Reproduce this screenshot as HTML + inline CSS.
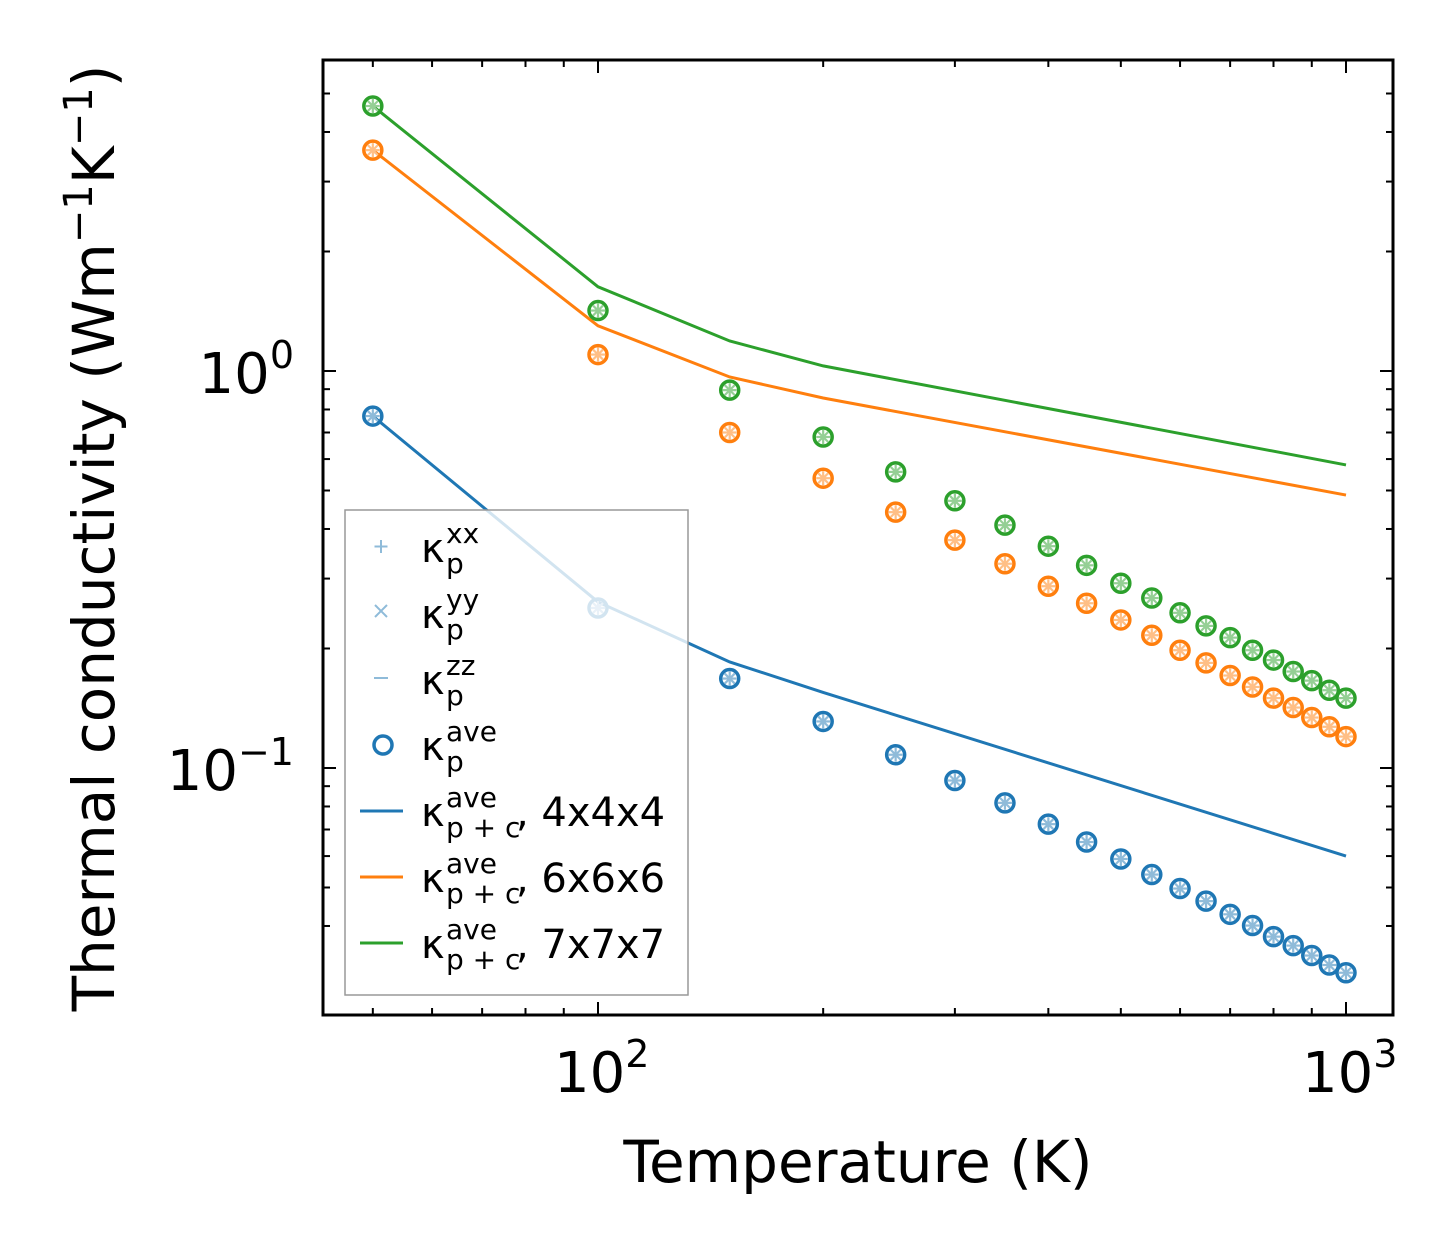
<!DOCTYPE html>
<html><head><meta charset="utf-8"><style>
html,body{margin:0;padding:0;background:#fff;}
svg{display:block;font-family:"DejaVu Sans","Liberation Sans",sans-serif;}
</style></head><body>
<svg id="chart" width="1454" height="1254" viewBox="0 0 1454 1254"></svg>
<script>
const temps = [50,100,150,200,250,300,350,400,450,500,550,600,650,700,750,800,850,900,950,1000];
const blueAve = [0.77,0.253,0.168,0.131,0.108,0.093,0.0817,0.0722,0.0651,0.059,0.0539,0.0497,0.0462,0.0428,0.0401,0.0376,0.0357,0.0337,0.0319,0.0305];
const orangeAve = [3.6,1.10,0.70,0.537,0.441,0.375,0.327,0.287,0.260,0.236,0.216,0.198,0.184,0.171,0.160,0.150,0.142,0.134,0.127,0.120];
const greenAve = [4.65,1.42,0.895,0.682,0.557,0.471,0.409,0.362,0.324,0.292,0.268,0.246,0.228,0.213,0.198,0.187,0.175,0.166,0.157,0.150];
const lineTemps = [50,100,150,200,1000];
const blueLine = [0.77,0.262,0.185,0.155,0.060];
const orangeLine = [3.6,1.30,0.966,0.855,0.487];
const greenLine = [4.65,1.63,1.19,1.03,0.580];
const xMajor = [100,1000];
const xMajorLabels = ["2","3"];
const yMajor = [0.1,1];
const yMajorLabels = ["\u22121","0"];

const NS="http://www.w3.org/2000/svg";
const svg=document.getElementById('chart');
const L=323,R=1393,T=60,B=1015;
const xs=v=>598+748*Math.log10(v/100);
const ys=v=>371-397*Math.log10(v);
function el(tag,attrs,parent){const e=document.createElementNS(NS,tag);for(const k in attrs)e.setAttribute(k,attrs[k]);(parent||svg).appendChild(e);return e;}

const lineColors=['#1f77b4','#ff7f0e','#2ca02c'];
const lightColors=['#8fbbd9','#ffbf86','#95cf95'];
const lineData=[blueLine,orangeLine,greenLine];
const ptData=[blueAve,orangeAve,greenAve];
const names=['blue','orange','green'];

for(let s=0;s<3;s++){
  const p=el('polyline',{points:lineTemps.map((t,i)=>xs(t)+','+ys(lineData[s][i])).join(' '),fill:'none',stroke:lineColors[s],'stroke-width':3});
  
  
  const g=el('g',{});
  
  
  temps.forEach((t,i)=>{
    const cx=xs(t),cy=ys(ptData[s][i]);
    const lc=lightColors[s];
    el('line',{x1:cx-7,y1:cy,x2:cx+7,y2:cy,stroke:lc,'stroke-width':2.2},g);
    el('line',{x1:cx,y1:cy-7,x2:cx,y2:cy+7,stroke:lc,'stroke-width':2.2},g);
    el('line',{x1:cx-5,y1:cy-5,x2:cx+5,y2:cy+5,stroke:lc,'stroke-width':2.2},g);
    el('line',{x1:cx-5,y1:cy+5,x2:cx+5,y2:cy-5,stroke:lc,'stroke-width':2.2},g);
    const c=el('circle',{cx:cx,cy:cy,r:9,fill:'none',stroke:lineColors[s],'stroke-width':3.5},g);
    
    
  });
}

const tg=el('g',{stroke:'#000','stroke-width':2});


const xMinor=[50,60,70,80,90,200,300,400,500,600,700,800,900];
xMinor.forEach(v=>{const x=xs(v);el('line',{x1:x,y1:B,x2:x,y2:B-7},tg);el('line',{x1:x,y1:T,x2:x,y2:T+7},tg);});
xMajor.forEach(v=>{const x=xs(v);el('line',{x1:x,y1:B,x2:x,y2:B-13},tg);el('line',{x1:x,y1:T,x2:x,y2:T+13},tg);});
const yMinor=[0.04,0.05,0.06,0.07,0.08,0.09,0.2,0.3,0.4,0.5,0.6,0.7,0.8,0.9,2,3,4,5];
yMinor.forEach(v=>{const y=ys(v);el('line',{x1:L,y1:y,x2:L+7,y2:y},tg);el('line',{x1:R,y1:y,x2:R-7,y2:y},tg);});
yMajor.forEach(v=>{const y=ys(v);el('line',{x1:L,y1:y,x2:L+13,y2:y},tg);el('line',{x1:R,y1:y,x2:R-13,y2:y},tg);});

const frame=el('rect',{x:L,y:T,width:R-L,height:B-T,fill:'none',stroke:'#000','stroke-width':3});



xMajor.forEach((v,i)=>{
  const t=el('text',{x:xs(v)-44,y:1092,'font-size':56});
  t.innerHTML='10<tspan font-size="38" dy="-25">'+xMajorLabels[i]+'</tspan>';
  
  
});
yMajor.forEach((v,i)=>{
  const t=el('text',{x:294,y:ys(v)+22,'font-size':56,'text-anchor':'end'});
  t.innerHTML='10<tspan font-size="38" dy="-25">'+yMajorLabels[i]+'</tspan>';
  
  
});
</script>
<script>
(function(){
const svg=document.getElementById('chart');
const NS="http://www.w3.org/2000/svg";
function add(html){const g=document.createElementNS(NS,'g');g.innerHTML=html;svg.appendChild(g);return g;}
add('<text x="858" y="1182" font-size="58" text-anchor="middle">Temperature (K)</text>');
add('<text transform="translate(114,538) rotate(-90)" font-size="58" text-anchor="middle">Thermal conductivity (Wm<tspan font-size="40" dy="-22">\u22121</tspan><tspan dy="22">K</tspan><tspan font-size="40" dy="-22">\u22121</tspan><tspan dy="22">)</tspan></text>');
function entry(y,sup,sub,rest,name){
  return `<g><text x="421" y="${y}" font-size="40">κ</text><text x="446" y="${y-19}" font-size="28">${sup}</text><text x="446" y="${y+11}" font-size="28">${sub}</text>${rest?`<text x="516" y="${y}" font-size="40">${rest}</text>`:''}</g>`;
}
const lg=add(`
<rect x="345" y="510" width="343" height="485" fill="#fff" fill-opacity="0.8" stroke="#999" stroke-width="1.5"/>
<g><line x1="381" y1="540" x2="381" y2="553" stroke="#8fbbd9" stroke-width="2"/><line x1="374.5" y1="546.5" x2="387.5" y2="546.5" stroke="#8fbbd9" stroke-width="2"/></g>
<g><line x1="375" y1="605" x2="387" y2="617" stroke="#8fbbd9" stroke-width="2"/><line x1="375" y1="617" x2="387" y2="605" stroke="#8fbbd9" stroke-width="2"/></g>
<g><line x1="374" y1="678" x2="388" y2="678" stroke="#8fbbd9" stroke-width="2"/></g>
<g><circle cx="383" cy="745" r="9" fill="none" stroke="#1f77b4" stroke-width="3.5"/></g>
<line x1="360" y1="811" x2="403" y2="811" stroke="#1f77b4" stroke-width="3"/>
<line x1="360" y1="877" x2="403" y2="877" stroke="#ff7f0e" stroke-width="3"/>
<line x1="360" y1="943" x2="403" y2="943" stroke="#2ca02c" stroke-width="3"/>
${entry(562,'xx','p','','legend-label-xx')}
${entry(628,'yy','p','','legend-label-yy')}
${entry(694,'zz','p','','legend-label-zz')}
${entry(760,'ave','p','','legend-label-ave')}
${entry(826,'ave','p + c',', 4x4x4','legend-label-4x4x4')}
${entry(892,'ave','p + c',', 6x6x6','legend-label-6x6x6')}
${entry(958,'ave','p + c',', 7x7x7','legend-label-7x7x7')}
`);


})();
</script>
</body></html>
